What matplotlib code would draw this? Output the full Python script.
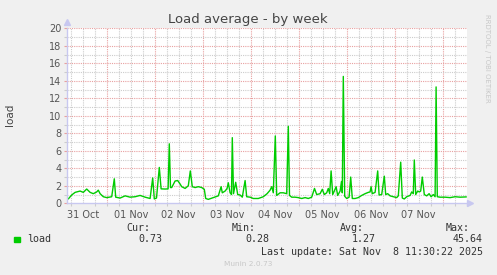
import numpy as np
import matplotlib.pyplot as plt
from matplotlib.ticker import MultipleLocator, FixedLocator

# hours since 31 Oct 00:00, load average (5 min avg, 30 min rrd step)
hours = [4.2, 4.8, 6.5, 8.2, 10.7, 12.3, 14.0, 15.7, 17.3, 19.0, 19.8, 20.7, 22.3,
         24.0, 26.5, 27.8, 28.5, 30.7, 33.2, 35.7, 38.2, 40.7, 43.2, 45.7, 47.0,
         47.8, 48.9, 50.3, 51.2, 53.2, 54.7, 55.3, 55.9, 56.5, 58.2, 59.5, 60.7,
         61.5, 63.2, 64.8, 65.8, 66.8, 68.2, 69.8, 71.5, 72.8, 73.5, 74.8, 77.3,
         79.8, 81.2, 81.8, 83.2, 84.2, 84.8, 85.7, 86.4, 86.8, 87.4, 88.5, 89.5,
         90.7, 91.8, 93.2, 94.0, 95.7, 97.3, 99.8, 102.3, 104.2, 105.7, 106.5,
         107.3, 108.3, 109.0, 110.7, 112.3, 114.0, 114.8, 115.4, 116.5, 118.2,
         119.8, 121.5, 123.2, 124.8, 126.5, 127.9, 129.0, 130.7, 131.8, 132.8,
         134.0, 134.8, 135.5, 136.2, 137.0, 137.8, 138.7, 139.5, 140.7, 141.4,
         141.8, 142.3, 143.0, 144.0, 145.2, 146.0, 146.8, 148.2, 149.8, 151.5,
         153.2, 154.8, 155.7, 156.2, 156.8, 158.2, 159.5, 160.2, 161.5, 162.8,
         163.5, 164.5, 165.7, 167.3, 169.0, 169.8, 171.0, 171.8, 172.8, 174.0,
         175.7, 176.5, 177.3, 177.8, 178.5, 179.5, 180.3, 181.0, 181.8, 182.8,
         184.0, 185.2, 186.2, 187.3, 188.2, 188.7, 189.3, 190.7, 193.2, 195.7,
         198.2, 200.7, 203.7]
load = [0.57, 0.5, 0.95, 1.25, 1.4, 1.25, 1.63, 1.25, 1.1, 1.3, 1.5, 1.1, 0.75,
        0.65, 0.75, 2.8, 0.7, 0.6, 0.85, 0.7, 0.75, 0.9, 0.7, 0.55, 2.9,
        0.5, 0.6, 4.1, 1.65, 1.63, 1.65, 6.8, 1.8, 1.8, 2.55, 2.6, 2.2,
        1.9, 1.7, 2.0, 3.7, 1.9, 1.8, 1.9, 1.8, 1.6, 0.55, 0.45, 0.65,
        0.85, 1.9, 1.2, 1.4, 1.7, 2.35, 1.2, 1.0, 7.5, 1.1, 2.4, 1.0,
        0.95, 0.7, 2.6, 0.75, 0.7, 0.55, 0.55, 0.75, 1.1, 1.5, 1.9,
        1.2, 7.7, 0.9, 1.2, 1.2, 1.1, 8.8, 0.9, 0.7, 0.7,
        0.65, 0.55, 0.65, 0.55, 0.7, 1.7, 1.0, 1.1, 1.6, 1.0,
        1.2, 1.7, 1.1, 3.7, 1.0, 1.4, 1.9, 0.9, 1.4, 2.5,
        1.2, 14.5, 0.8, 0.55, 0.7, 3.0, 0.55, 0.55, 0.65, 0.9,
        1.1, 1.25, 1.3, 1.9, 1.1, 1.25, 3.7, 0.95, 1.0, 3.1,
        1.0, 1.1, 0.85, 0.75, 0.65, 0.85, 4.7, 0.6, 0.5, 0.75,
        0.9, 1.3, 1.1, 4.95, 1.0, 1.4, 1.3, 1.4, 3.0, 1.0,
        0.85, 1.1, 0.75, 1.0, 0.75, 13.3, 0.75, 0.7, 0.7, 0.65,
        0.75, 0.7, 0.73]

day_labels = ['31 Oct', '01 Nov', '02 Nov', '03 Nov', '04 Nov', '05 Nov', '06 Nov', '07 Nov']
day_noon = [12 + 24 * i for i in range(len(day_labels))]

legend_name = 'load'
cur, vmin, avg, vmax = '0.73', '0.28', '1.27', '45.64'
last_update = 'Last update: Sat Nov  8 11:30:22 2025'

W, H = 497, 275
fig = plt.figure(figsize=(W / 100, H / 100), dpi=100, facecolor='#f0f0f0')

def px(x, y):
    return x / W, 1 - y / H

# plot area in pixels
L, R, T, B = 67, 467, 28.3, 203.3
ax = fig.add_axes([L / W, 1 - B / H, (R - L) / W, (B - T) / H])
ax.set_facecolor('white')

ax.plot(hours, load, color='#00cc00', lw=1.0)

ax.set_xlim(4.15, 204.15)
ax.set_ylim(0, 20)

ax.yaxis.set_major_locator(MultipleLocator(2))
ax.yaxis.set_minor_locator(MultipleLocator(1))
ax.xaxis.set_major_locator(FixedLocator(day_noon))
ax.xaxis.set_ticklabels(day_labels)
ax.xaxis.set_minor_locator(MultipleLocator(6))

# grid: grey every 6h / 1, red at midnight / every 2
for h in np.arange(6, 204, 6):
    if h % 24 == 0:
        ax.axvline(h, color='#e8a0a0', lw=0.8, ls=(0, (1, 1)), zorder=0)
    else:
        ax.axvline(h, color='#cccccc', lw=0.8, ls=(0, (1, 1)), zorder=0)
for v in range(1, 21):
    c = '#e8a0a0' if v % 2 == 0 else '#cccccc'
    ax.axhline(v, color=c, lw=0.8, ls=(0, (1, 1)), zorder=0)

for s in ['top', 'right']:
    ax.spines[s].set_visible(False)
for s in ['left', 'bottom']:
    ax.spines[s].set_color('#c8c8f0')
    ax.spines[s].set_linewidth(1)

# small axis arrows
ax.plot([0], [1.035], marker='^', ms=4, color='#c8c8f0', transform=ax.transAxes, clip_on=False)
ax.plot([1.008], [0], marker='>', ms=4, color='#c8c8f0', transform=ax.transAxes, clip_on=False)

ax.tick_params(axis='both', which='major', length=2, width=0.8, color='#e8a0a0',
               labelsize=7, labelcolor='#555555', pad=2)
ax.tick_params(axis='both', which='minor', length=2, width=0.8, color='#cccccc')
ax.tick_params(axis='x', which='major', length=0, pad=5)

fig.text(*px(248, 19.5), 'Load average - by week', ha='center', va='center',
         fontsize=9.5, color='#444444')
fig.text(*px(10, 115), 'load', rotation=90, ha='center', va='center',
         fontsize=7.5, color='#444444')
fig.text(*px(487.5, 58), 'RRDTOOL / TOBI OETIKER', rotation=270, ha='center', va='center',
         fontsize=5, color='#c8c8c8')

mono = dict(family='DejaVu Sans Mono', fontsize=7.2, color='#333333', va='center')
fig.patches.append(plt.Rectangle(px(14, 242.3), 6 / W, 5.6 / H, color='#00cc00',
                                 transform=fig.transFigure, figure=fig))
fig.text(*px(26.7, 239.3), legend_name, ha='left', **mono)
fig.text(*px(150.5, 227.7), 'Cur:', ha='right', **mono)
fig.text(*px(162.5, 239.3), cur, ha='right', **mono)
fig.text(*px(256, 227.7), 'Min:', ha='right', **mono)
fig.text(*px(269.5, 239.3), vmin, ha='right', **mono)
fig.text(*px(363.5, 227.7), 'Avg:', ha='right', **mono)
fig.text(*px(376, 239.3), avg, ha='right', **mono)
fig.text(*px(470, 227.7), 'Max:', ha='right', **mono)
fig.text(*px(483, 239.3), vmax, ha='right', **mono)
fig.text(*px(483, 251.7), last_update, ha='right', **mono)
fig.text(*px(248, 264.3), 'Munin 2.0.73', ha='center', va='center',
         fontsize=5.3, color='#c8c8c8')

fig.savefig('out.png', dpi=100, facecolor=fig.get_facecolor())
